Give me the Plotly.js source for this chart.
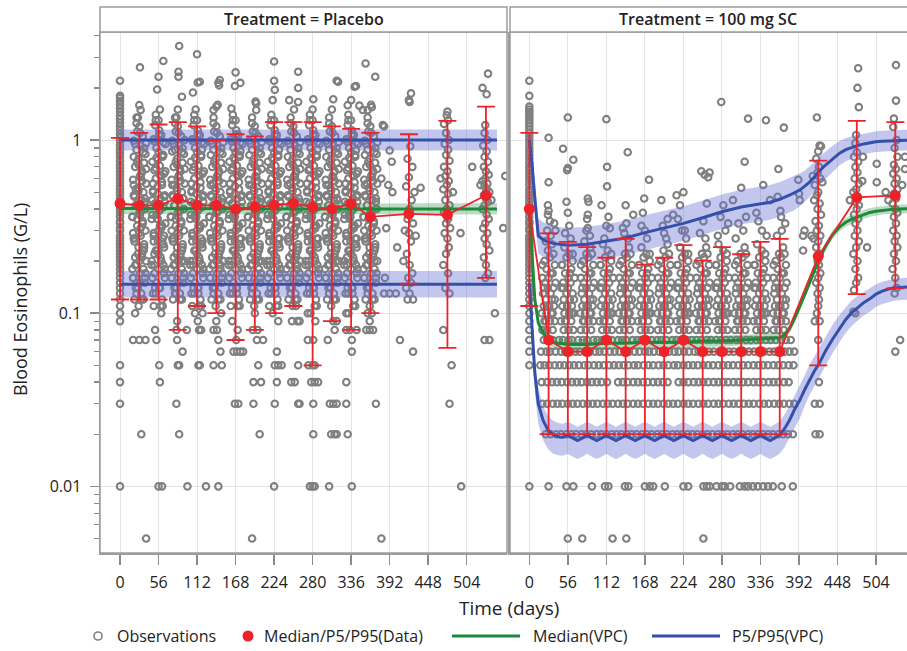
<!DOCTYPE html>
<html><head><meta charset="utf-8">
<script src="https://cdn.plot.ly/plotly-3.0.1.min.js"></script>
<style>html,body{margin:0;padding:0;background:#fff}#chart{width:907px;height:651px}</style>
</head><body><div id="chart"></div>
<script>
// ---------- Summary statistics of observed data (Median / P5 / P95) ----------
const visitDays = [0,28,56,84,112,140,168,196,224,252,280,308,336,364,420,476,532];
const plcMedian = [0.43,0.42,0.42,0.46,0.42,0.42,0.40,0.41,0.42,0.43,0.41,0.40,0.43,0.36,0.375,0.37,0.48];
const plcP5     = [0.12,0.12,0.12,0.08,0.11,0.10,0.07,0.08,0.10,0.11,0.05,0.09,0.08,0.10,0.148,0.063,0.16];
const plcP95    = [1.03,1.10,1.23,1.27,1.20,1.00,1.08,1.05,1.27,1.27,1.27,1.20,1.16,1.10,1.08,1.29,1.56];
const d100Median = [0.40,0.07,0.06,0.06,0.07,0.06,0.07,0.06,0.07,0.06,0.06,0.06,0.06,0.06,0.213,0.466,0.479];
const d100P5     = [0.11,0.02,0.02,0.02,0.02,0.02,0.02,0.02,0.02,0.02,0.02,0.02,0.02,0.02,0.05,0.129,0.139];
const d100P95    = [1.10,0.289,0.258,0.241,0.209,0.269,0.191,0.209,0.247,0.201,0.241,0.219,0.258,0.269,0.76,1.29,1.27];

// ---------- VPC (simulated) Placebo ----------
const vpcPlcDay   = [0,56,112,168,224,280,336,392,448,504,548];
const vpcPlcMed   = [0.402,0.401,0.40,0.40,0.401,0.40,0.40,0.399,0.40,0.40,0.40];
const vpcPlcMedLo = [0.373,0.372,0.371,0.371,0.372,0.371,0.371,0.37,0.371,0.371,0.371];
const vpcPlcMedHi = [0.433,0.432,0.431,0.431,0.432,0.431,0.431,0.43,0.431,0.431,0.431];
const vpcPlcP95   = [1.0,1.0,1.0,1.0,1.0,1.0,1.0,1.0,1.0,1.0,1.0];
const vpcPlcP95Lo = [0.87,0.87,0.87,0.87,0.87,0.87,0.87,0.87,0.87,0.87,0.87];
const vpcPlcP95Hi = [1.15,1.15,1.15,1.15,1.15,1.15,1.15,1.15,1.15,1.15,1.15];
const vpcPlcP5    = [0.147,0.147,0.147,0.147,0.147,0.147,0.147,0.147,0.147,0.147,0.147];
const vpcPlcP5Lo  = [0.123,0.123,0.123,0.123,0.123,0.123,0.123,0.123,0.123,0.123,0.123];
const vpcPlcP5Hi  = [0.175,0.175,0.175,0.175,0.175,0.175,0.175,0.175,0.175,0.175,0.175];

// ---------- VPC (simulated) 100 mg SC ----------
const vpc100Day   = [0,4,8,13,20,27,34,42,56,84,112,140,168,196,224,252,280,308,336,350,364,371,378,385,393,400,407,414,421,431,441,451,460,468,476,486,495,504,513,522,530,539,548,560];
const vpc100Med   = [0.40,0.22,0.12,0.088,0.077,0.071,0.068,0.067,0.066,0.066,0.067,0.067,0.068,0.068,0.068,0.069,0.069,0.07,0.071,0.072,0.072,0.075,0.081,0.092,0.108,0.127,0.148,0.175,0.205,0.245,0.285,0.315,0.335,0.348,0.357,0.372,0.382,0.388,0.393,0.396,0.399,0.40,0.401,0.402];
const vpc100MedLo = [0.378,0.208,0.113,0.083,0.072,0.066,0.063,0.062,0.061,0.061,0.062,0.062,0.063,0.063,0.063,0.064,0.064,0.065,0.066,0.067,0.067,0.071,0.076,0.087,0.102,0.12,0.14,0.165,0.194,0.231,0.269,0.297,0.316,0.329,0.337,0.351,0.361,0.366,0.371,0.374,0.377,0.378,0.379,0.38];
const vpc100MedHi = [0.424,0.233,0.127,0.093,0.082,0.076,0.073,0.072,0.071,0.071,0.072,0.072,0.073,0.073,0.073,0.074,0.074,0.075,0.076,0.077,0.077,0.079,0.086,0.097,0.114,0.134,0.157,0.185,0.217,0.259,0.302,0.334,0.355,0.369,0.378,0.394,0.405,0.411,0.416,0.419,0.423,0.424,0.425,0.426];
const vpc100P95   = [1.0,0.72,0.46,0.28,0.266,0.258,0.253,0.25,0.247,0.25,0.26,0.272,0.292,0.31,0.33,0.356,0.385,0.41,0.425,0.437,0.455,0.466,0.48,0.495,0.514,0.54,0.57,0.61,0.66,0.72,0.78,0.84,0.88,0.905,0.925,0.95,0.965,0.978,0.985,0.99,0.995,1.0,1.0,1.0];
const vpc100P95Lo = [0.83,0.572,0.365,0.222,0.211,0.205,0.201,0.199,0.196,0.199,0.207,0.216,0.232,0.246,0.262,0.283,0.306,0.326,0.338,0.347,0.361,0.37,0.381,0.393,0.413,0.439,0.465,0.502,0.546,0.601,0.656,0.715,0.754,0.78,0.802,0.827,0.841,0.852,0.858,0.862,0.867,0.871,0.871,0.871];
const vpc100P95Hi = [1.2,0.906,0.58,0.352,0.335,0.325,0.318,0.315,0.311,0.315,0.327,0.342,0.368,0.39,0.415,0.448,0.485,0.516,0.535,0.55,0.573,0.587,0.604,0.623,0.64,0.664,0.698,0.742,0.797,0.862,0.927,0.987,1.027,1.051,1.066,1.091,1.108,1.123,1.131,1.137,1.142,1.148,1.148,1.148];
const vpc100P5Day = [0,4,8,13,20,27,34,42,49,56,63,70,77,84,91,98,105,112,119,126,133,140,147,154,161,168,175,182,189,196,203,210,217,224,231,238,245,252,259,266,273,280,287,294,301,308,315,322,329,336,343,350,357,364,371,378,385,393,400,407,414,421,431,441,451,460,468,476,486,495,504,513,522,530,539,548,560];
const vpc100P5    = [0.15,0.08,0.045,0.03,0.024,0.0212,0.0199,0.0193,0.0192,0.0197,0.019,0.0184,0.019,0.0197,0.019,0.0184,0.019,0.0197,0.019,0.0184,0.019,0.0197,0.019,0.0184,0.019,0.0197,0.019,0.0184,0.019,0.0197,0.019,0.0184,0.019,0.0197,0.019,0.0184,0.019,0.0197,0.019,0.0184,0.019,0.0197,0.019,0.0184,0.019,0.0197,0.019,0.0184,0.019,0.0197,0.019,0.0184,0.019,0.0198,0.0215,0.024,0.0275,0.0314,0.036,0.041,0.046,0.051,0.061,0.071,0.082,0.092,0.1,0.107,0.115,0.121,0.129,0.134,0.138,0.14,0.141,0.142,0.143];
const vpc100P5Lo  = [0.125,0.064,0.035,0.023,0.0185,0.0165,0.0155,0.0151,0.015,0.0154,0.0148,0.0144,0.0148,0.0154,0.0148,0.0144,0.0148,0.0154,0.0148,0.0144,0.0148,0.0154,0.0148,0.0144,0.0148,0.0154,0.0148,0.0144,0.0148,0.0154,0.0148,0.0144,0.0148,0.0154,0.0148,0.0144,0.0148,0.0154,0.0148,0.0144,0.0148,0.0154,0.0148,0.0144,0.0148,0.0154,0.0148,0.0144,0.0148,0.0154,0.0148,0.0144,0.0148,0.0155,0.0168,0.0188,0.0215,0.0246,0.029,0.0335,0.0377,0.042,0.05,0.059,0.068,0.077,0.084,0.09,0.097,0.102,0.109,0.113,0.116,0.118,0.119,0.12,0.12];
const vpc100P5Hi  = [0.18,0.097,0.055,0.037,0.029,0.0255,0.024,0.0232,0.023,0.0236,0.0228,0.0221,0.0228,0.0236,0.0228,0.0221,0.0228,0.0236,0.0228,0.0221,0.0228,0.0236,0.0228,0.0221,0.0228,0.0236,0.0228,0.0221,0.0228,0.0236,0.0228,0.0221,0.0228,0.0236,0.0228,0.0221,0.0228,0.0236,0.0228,0.0221,0.0228,0.0236,0.0228,0.0221,0.0228,0.0236,0.0228,0.0221,0.0228,0.0236,0.0228,0.0221,0.0228,0.0237,0.026,0.029,0.033,0.038,0.0435,0.05,0.056,0.062,0.074,0.086,0.098,0.109,0.118,0.125,0.133,0.139,0.147,0.152,0.156,0.158,0.159,0.16,0.161];

// ---------- Observations, Placebo: [day, G/L] ----------
const obsPlacebo = [
[0,2.2],[0,1.8],[0,1.75],[0,1.68],[0,1.6],[0,1.52],[0,1.45],[0,1.38],[0,1.32],[0,1.26],[0,1.2],[0,1.14],[0,1.08],[0,1.03],[0,0.98],[0,0.93],[0,0.88],[0,0.84],[0,0.8],[0,0.76],[0,0.72],[0,0.69],[0,0.66],[0,0.63],[0,0.6],[0,0.57],[0,0.54],[0,0.52],[0,0.5],[0,0.48],[0,0.46],[0,0.44],[0,0.42],[0,0.4],[0,0.38],[0,0.36],[0,0.34],[0,0.33],[0,0.31],[0,0.3],[0,0.28],[0,0.27],[0,0.26],[0,0.25],[0,0.24],[0,0.23],[0,0.22],[0,0.21],[0,0.2],[0,0.19],[0,0.18],[0,0.17],[0,0.16],[0,0.15],[0,0.14],[0,0.13],[0,0.12],[0,0.11],[0,0.1],[0,0.09],[0,0.05],[0,0.04],[0,0.03],[0,0.01],
[21,0.12],[31,0.13],[26,0.14],[36,0.15],[19,0.16],[29,0.17],[34,0.18],[24,0.19],[38,0.2],[22,0.21],[32,0.22],[27,0.24],[35,0.25],[20,0.27],[30,0.28],[37,0.3],[25,0.32],[33,0.34],[18,0.36],[28,0.38],[36,0.4],[23,0.42],[31,0.45],[21,0.47],[34,0.5],[26,0.53],[38,0.56],[19,0.59],[29,0.62],[32,0.66],[22,0.7],[35,0.74],[27,0.78],[37,0.83],[24,0.88],[30,0.93],[20,0.99],[33,1.05],[25,1.12],[28,1.2],
[25,0.15],[34,0.23],[19,0.29],[29,0.37],[36,0.44],[23,0.52],[31,0.64],[20,0.8],[38,0.96],[27,0.11],[29,2.63],[28,1.59],[30,1.49],[26,1.35],[19,0.07],[28,0.07],[37,0.07],[31,0.02],[38,0.005],[22,0.1],
[31,0.12],[23,0.14],[36,0.16],[18,0.18],[28,0.2],[34,0.23],[21,0.26],[30,0.31],[25,0.35],[37,0.4],[20,0.48],[32,0.58],[27,0.72],[35,0.9],[24,1.35],
[61,0.12],[48,0.13],[58,0.14],[53,0.15],[65,0.16],[50,0.17],[56,0.18],[63,0.19],[46,0.2],[59,0.21],[52,0.23],[64,0.24],[55,0.26],[62,0.27],[49,0.29],[60,0.31],[66,0.33],[54,0.35],[47,0.37],[57,0.39],[63,0.41],[51,0.43],[59,0.46],[65,0.48],[48,0.51],[55,0.54],[61,0.57],[52,0.6],[64,0.64],[50,0.67],[58,0.71],[47,0.75],[62,0.8],[56,0.85],[53,0.9],[66,0.95],[49,1.01],[60,1.07],[57,1.14],[51,1.22],
[58,0.14],[50,0.22],[64,0.28],[55,0.35],[47,0.45],[61,0.55],[52,0.69],[63,0.82],[56,1.3],[49,0.11],[63,2.86],[56,2.32],[54,1.96],[58,1.5],[53,0.07],[57,0.05],[58,0.04],[56,0.01],[61,0.01],[51,0.08],[60,0.1],
[59,0.11],[51,0.14],[64,0.17],[46,0.19],[56,0.22],[62,0.25],[49,0.28],[58,0.32],[53,0.37],[65,0.44],[48,0.5],[60,0.62],[55,0.77],[63,0.97],[52,1.4],
[77,0.12],[87,0.13],[82,0.14],[92,0.15],[75,0.16],[85,0.17],[90,0.18],[80,0.19],[94,0.2],[78,0.21],[88,0.22],[83,0.24],[91,0.25],[76,0.27],[86,0.28],[93,0.3],[81,0.32],[89,0.34],[74,0.36],[84,0.38],[92,0.4],[79,0.42],[87,0.45],[77,0.47],[90,0.5],[82,0.53],[94,0.56],[75,0.59],[85,0.62],[88,0.66],[78,0.7],[91,0.74],[83,0.78],[93,0.83],[80,0.88],[86,0.93],[76,0.99],[89,1.05],[81,1.12],[84,1.2],
[81,0.13],[90,0.2],[75,0.3],[85,0.36],[92,0.46],[79,0.55],[87,0.68],[76,0.86],[94,1.0],[83,0.09],[86,3.49],[85,2.48],[85,2.32],[90,1.78],[84,1.5],[82,1.35],[82,0.08],[91,0.06],[84,0.05],[86,0.05],[82,0.03],[86,0.02],[97,0.08],[98,0.01],[83,0.07],
[87,0.12],[79,0.14],[92,0.16],[74,0.18],[84,0.2],[90,0.23],[77,0.26],[86,0.31],[81,0.35],[93,0.4],[76,0.48],[88,0.58],[83,0.72],[91,0.9],[80,1.35],
[117,0.12],[104,0.13],[114,0.14],[109,0.15],[121,0.16],[106,0.17],[112,0.18],[119,0.19],[102,0.2],[115,0.21],[108,0.23],[120,0.24],[111,0.26],[118,0.27],[105,0.29],[116,0.31],[122,0.33],[110,0.35],[103,0.37],[113,0.39],[119,0.41],[107,0.43],[115,0.46],[121,0.48],[104,0.51],[111,0.54],[117,0.57],[108,0.6],[120,0.64],[106,0.67],[114,0.71],[103,0.75],[118,0.8],[112,0.85],[109,0.9],[122,0.95],[105,1.01],[116,1.07],[113,1.14],[107,1.22],
[114,0.13],[106,0.2],[120,0.26],[111,0.36],[103,0.44],[117,0.53],[108,0.7],[119,0.88],[112,1.3],[105,0.11],[112,3.13],[113,2.15],[116,2.17],[106,1.88],[110,1.5],[113,0.09],[115,0.08],[118,0.08],[114,0.05],[116,0.05],[125,0.01],[109,0.1],[120,0.1],
[115,0.11],[107,0.14],[120,0.17],[102,0.19],[112,0.22],[118,0.25],[105,0.28],[114,0.32],[109,0.37],[121,0.44],[104,0.5],[116,0.62],[111,0.77],[119,0.97],[108,1.4],
[133,0.12],[143,0.13],[138,0.14],[148,0.15],[131,0.16],[141,0.17],[146,0.18],[136,0.19],[150,0.2],[134,0.21],[144,0.22],[139,0.24],[147,0.25],[132,0.27],[142,0.28],[149,0.3],[137,0.32],[145,0.34],[130,0.36],[140,0.38],[148,0.4],[135,0.42],[143,0.45],[133,0.47],[146,0.5],[138,0.53],[150,0.56],[131,0.59],[141,0.62],[144,0.66],[134,0.7],[147,0.74],[139,0.78],[149,0.83],[136,0.88],[142,0.93],[132,0.99],[145,1.05],[137,1.12],[140,1.2],
[137,0.14],[146,0.19],[131,0.29],[141,0.38],[148,0.44],[135,0.56],[143,0.64],[132,0.82],[150,0.97],[139,0.11],[145,2.22],[143,2.14],[144,2.07],[140,1.56],[136,1.49],[142,1.6],[141,0.08],[136,0.08],[143,0.07],[146,0.06],[136,0.05],[148,0.05],[143,0.01],[140,0.09],[147,0.1],
[143,0.12],[135,0.14],[148,0.16],[130,0.18],[140,0.2],[146,0.23],[133,0.26],[142,0.31],[137,0.35],[149,0.4],[132,0.48],[144,0.58],[139,0.72],[147,0.9],[136,1.35],
[173,0.12],[160,0.13],[170,0.14],[165,0.15],[177,0.16],[162,0.17],[168,0.18],[175,0.19],[158,0.2],[171,0.21],[164,0.23],[176,0.24],[167,0.26],[174,0.27],[161,0.29],[172,0.31],[178,0.33],[166,0.35],[159,0.37],[169,0.39],[175,0.41],[163,0.43],[171,0.46],[177,0.48],[160,0.51],[167,0.54],[173,0.57],[164,0.6],[176,0.64],[162,0.67],[170,0.71],[159,0.75],[174,0.8],[168,0.85],[165,0.9],[178,0.95],[161,1.01],[172,1.07],[169,1.14],[163,1.22],
[170,0.13],[162,0.2],[176,0.27],[167,0.36],[159,0.45],[173,0.52],[164,0.69],[175,0.86],[168,1.3],[161,0.11],[168,2.46],[167,2.05],[175,2.14],[162,1.52],[171,0.08],[165,0.06],[170,0.06],[175,0.06],[179,0.06],[167,0.03],[172,0.03],[169,0.07],[163,0.09],
[171,0.11],[163,0.14],[176,0.17],[158,0.19],[168,0.22],[174,0.25],[161,0.28],[170,0.32],[165,0.37],[177,0.44],[160,0.5],[172,0.62],[167,0.77],[175,0.97],[164,1.4],
[189,0.12],[199,0.13],[194,0.14],[204,0.15],[187,0.16],[197,0.17],[202,0.18],[192,0.19],[206,0.2],[190,0.21],[200,0.22],[195,0.24],[203,0.25],[188,0.27],[198,0.28],[205,0.3],[193,0.32],[201,0.34],[186,0.36],[196,0.38],[204,0.4],[191,0.42],[199,0.45],[189,0.47],[202,0.5],[194,0.53],[206,0.56],[187,0.59],[197,0.62],[200,0.66],[190,0.7],[203,0.74],[195,0.78],[205,0.83],[192,0.88],[198,0.93],[188,0.99],[201,1.05],[193,1.12],[196,1.2],
[193,0.14],[202,0.2],[187,0.3],[197,0.37],[204,0.44],[191,0.55],[199,0.65],[188,0.82],[206,0.97],[195,0.11],[198,1.63],[198,1.49],[197,1.67],[193,0.08],[200,0.08],[199,0.07],[208,0.07],[201,0.05],[194,0.04],[205,0.04],[194,0.03],[203,0.02],[192,0.005],[196,0.1],
[199,0.12],[191,0.14],[204,0.16],[186,0.18],[196,0.2],[202,0.23],[189,0.26],[198,0.31],[193,0.35],[205,0.4],[188,0.48],[200,0.58],[195,0.72],[203,0.9],[192,1.35],
[229,0.12],[216,0.13],[226,0.14],[221,0.15],[233,0.16],[218,0.17],[224,0.18],[231,0.19],[214,0.2],[227,0.21],[220,0.23],[232,0.24],[223,0.26],[230,0.27],[217,0.29],[228,0.31],[234,0.33],[222,0.35],[215,0.37],[225,0.39],[231,0.41],[219,0.43],[227,0.46],[233,0.48],[216,0.51],[223,0.54],[229,0.57],[220,0.6],[232,0.64],[218,0.67],[226,0.71],[215,0.75],[230,0.8],[224,0.85],[221,0.9],[234,0.95],[217,1.01],[228,1.07],[225,1.14],[219,1.22],
[226,0.13],[218,0.2],[232,0.27],[223,0.35],[215,0.45],[229,0.55],[220,0.69],[231,0.88],[224,1.3],[217,0.11],[224,2.84],[224,2.2],[225,1.95],[222,1.7],[228,0.06],[225,0.05],[230,0.05],[235,0.05],[228,0.04],[225,0.03],[224,0.01],[222,0.1],[230,0.09],
[227,0.11],[219,0.14],[232,0.17],[214,0.19],[224,0.22],[230,0.25],[217,0.28],[226,0.32],[221,0.37],[233,0.44],[216,0.5],[228,0.62],[223,0.77],[231,0.97],[220,1.4],
[245,0.12],[255,0.13],[250,0.14],[260,0.15],[243,0.16],[253,0.17],[258,0.18],[248,0.19],[262,0.2],[246,0.21],[256,0.22],[251,0.24],[259,0.25],[244,0.27],[254,0.28],[261,0.3],[249,0.32],[257,0.34],[242,0.36],[252,0.38],[260,0.4],[247,0.42],[255,0.45],[245,0.47],[258,0.5],[250,0.53],[262,0.56],[243,0.59],[253,0.62],[256,0.66],[246,0.7],[259,0.74],[251,0.78],[261,0.83],[248,0.88],[254,0.93],[244,0.99],[257,1.05],[249,1.12],[252,1.2],
[249,0.14],[258,0.19],[243,0.3],[253,0.38],[260,0.44],[247,0.56],[255,0.64],[244,0.8],[262,0.97],[251,0.11],[259,2.48],[259,2.0],[246,1.7],[259,1.66],[253,1.5],[250,0.09],[258,0.09],[261,0.09],[249,0.04],[254,0.04],[259,0.05],[259,0.03],[261,0.03],[256,0.11],
[255,0.12],[247,0.14],[260,0.16],[242,0.18],[252,0.2],[258,0.23],[245,0.26],[254,0.31],[249,0.35],[261,0.4],[244,0.48],[256,0.58],[251,0.72],[259,0.9],[248,1.35],
[285,0.12],[272,0.13],[282,0.14],[277,0.15],[289,0.16],[274,0.17],[280,0.18],[287,0.19],[270,0.2],[283,0.21],[276,0.23],[288,0.24],[279,0.26],[286,0.27],[273,0.29],[284,0.31],[290,0.33],[278,0.35],[271,0.37],[281,0.39],[287,0.41],[275,0.43],[283,0.46],[289,0.48],[272,0.51],[279,0.54],[285,0.57],[276,0.6],[288,0.64],[274,0.67],[282,0.71],[271,0.75],[286,0.8],[280,0.85],[277,0.9],[290,0.95],[273,1.01],[284,1.07],[281,1.14],[275,1.22],
[282,0.13],[274,0.2],[288,0.27],[279,0.36],[271,0.44],[285,0.53],[276,0.68],[287,0.88],[280,1.3],[273,0.1],[281,1.72],[280,1.5],[273,0.07],[281,0.07],[274,0.05],[280,0.05],[283,0.05],[278,0.04],[283,0.04],[288,0.04],[281,0.03],[281,0.02],[276,0.01],[280,0.01],[283,0.01],[277,0.1],[284,0.09],
[283,0.11],[275,0.14],[288,0.17],[270,0.19],[280,0.22],[286,0.25],[273,0.28],[282,0.32],[277,0.37],[289,0.44],[272,0.5],[284,0.62],[279,0.77],[287,0.97],[276,1.4],
[301,0.12],[311,0.13],[306,0.14],[316,0.15],[299,0.16],[309,0.17],[314,0.18],[304,0.19],[318,0.2],[302,0.21],[312,0.22],[307,0.24],[315,0.25],[300,0.27],[310,0.28],[317,0.3],[305,0.32],[313,0.34],[298,0.36],[308,0.38],[316,0.4],[303,0.42],[311,0.45],[301,0.47],[314,0.5],[306,0.53],[318,0.56],[299,0.59],[309,0.62],[312,0.66],[302,0.7],[315,0.74],[307,0.78],[317,0.83],[304,0.88],[310,0.93],[300,0.99],[313,1.05],[305,1.12],[308,1.2],
[305,0.14],[314,0.2],[299,0.29],[309,0.37],[316,0.45],[303,0.55],[311,0.65],[300,0.8],[318,0.97],[307,0.11],[315,2.2],[317,2.17],[310,1.72],[308,1.5],[302,0.07],[310,0.09],[315,0.09],[305,0.03],[310,0.03],[315,0.03],[307,0.02],[312,0.02],[315,0.02],[304,0.01],[312,0.08],
[311,0.12],[303,0.14],[316,0.16],[298,0.18],[308,0.2],[314,0.23],[301,0.26],[310,0.31],[305,0.35],[317,0.4],[300,0.48],[312,0.58],[307,0.72],[315,0.9],[304,1.35],
[341,0.12],[328,0.13],[338,0.14],[333,0.15],[345,0.16],[330,0.17],[336,0.18],[343,0.19],[326,0.2],[339,0.21],[332,0.23],[344,0.24],[335,0.26],[342,0.27],[329,0.29],[340,0.31],[346,0.33],[334,0.35],[327,0.37],[337,0.39],[343,0.41],[331,0.43],[339,0.46],[345,0.48],[328,0.51],[335,0.54],[341,0.57],[332,0.6],[344,0.64],[330,0.67],[338,0.71],[327,0.75],[342,0.8],[336,0.85],[333,0.9],[346,0.95],[329,1.01],[340,1.07],[337,1.14],[331,1.22],
[338,0.13],[330,0.21],[344,0.27],[335,0.36],[327,0.44],[341,0.53],[332,0.69],[343,0.87],[336,1.3],[329,0.1],[343,2.05],[341,2.03],[336,1.7],[331,1.59],[348,1.58],[353,1.49],[337,0.07],[337,0.06],[329,0.08],[334,0.08],[344,0.08],[329,0.04],[329,0.03],[331,0.02],[337,0.01],[332,0.1],
[339,0.11],[331,0.14],[344,0.17],[326,0.19],[336,0.22],[342,0.25],[329,0.28],[338,0.32],[333,0.37],[345,0.44],[328,0.5],[340,0.62],[335,0.77],[343,0.97],[332,1.4],
[357,0.12],[367,0.13],[362,0.14],[372,0.15],[355,0.16],[365,0.17],[370,0.18],[360,0.19],[374,0.2],[358,0.21],[368,0.22],[363,0.24],[371,0.25],[356,0.27],[366,0.28],[373,0.3],[361,0.32],[369,0.34],[354,0.36],[364,0.38],[372,0.4],[359,0.42],[367,0.45],[357,0.47],[370,0.5],[362,0.53],[374,0.56],[355,0.59],[365,0.62],[368,0.66],[358,0.7],[371,0.74],[363,0.78],[373,0.83],[360,0.88],[366,0.93],[356,0.99],[369,1.05],[361,1.12],[364,1.2],
[361,0.14],[370,0.2],[355,0.3],[365,0.37],[372,0.44],[359,0.56],[367,0.64],[356,0.82],[374,0.97],[363,0.11],[357,2.77],[371,2.32],[365,1.6],[366,1.55],[360,1.49],[358,0.08],[363,0.08],[368,0.08],[363,0.09],[372,0.03],[380,0.005],[360,0.1],[366,0.1],
[367,0.12],[359,0.14],[372,0.16],[354,0.18],[364,0.2],[370,0.23],[357,0.26],[366,0.31],[361,0.35],[373,0.4],[356,0.48],[368,0.58],[363,0.72],[371,0.9],[360,1.35],
[382,1.22],[384,1.2],[392,0.87],[390,0.55],[396,0.5],[387,0.31],[403,0.24],[384,0.13],[392,0.13],[401,0.13],[380,0.6],[385,0.16],[395,0.75],
[423,1.86],[421,1.66],[420,1.7],[422,0.92],[418,0.78],[425,0.7],[420,0.61],[416,0.54],[424,0.45],[421,0.4],[418,0.35],[426,0.33],[420,0.29],[423,0.26],[417,0.22],[421,0.19],[425,0.17],[419,0.16],[423,0.15],[416,0.14],[421,0.13],[426,0.12],[418,0.12],[414,0.3],[428,0.5],[437,0.53],[407,0.07],[426,0.06],[430,0.28],[412,0.2],
[476,1.46],[475,1.39],[471,1.24],[477,1.3],[474,1.1],[478,1.0],[472,0.95],[477,0.88],[474,0.82],[479,0.76],[471,0.7],[476,0.66],[473,0.62],[478,0.58],[475,0.55],[470,0.52],[477,0.49],[473,0.45],[479,0.42],[475,0.4],[471,0.38],[477,0.35],[474,0.33],[480,0.31],[472,0.29],[476,0.27],[478,0.24],[474,0.22],[470,0.19],[477,0.17],[473,0.14],[479,0.13],[470,0.08],[482,0.05],[479,0.03],[496,0.01],[466,0.6],[484,0.5],
[535,2.42],[527,2.0],[533,1.84],[531,1.22],[530,1.1],[534,1.0],[528,0.93],[533,0.86],[530,0.8],[535,0.75],[529,0.7],[532,0.66],[536,0.63],[531,0.6],[527,0.58],[534,0.56],[530,0.54],[533,0.52],[537,0.5],[529,0.48],[532,0.46],[535,0.44],[530,0.42],[527,0.4],[533,0.37],[536,0.35],[531,0.33],[528,0.31],[534,0.29],[530,0.27],[533,0.25],[537,0.23],[529,0.21],[532,0.19],[535,0.17],[531,0.16],[530,0.07],[537,0.07],[545,0.1],[512,0.7],[495,0.29],[557,0.31],[560,0.62],[540,0.45],[524,0.55]
];
// further Placebo observations within the visit windows 28..364
const obsPlaceboMore = [
[34,0.12],[24,0.13],[29,0.15],[19,0.16],[37,0.17],[22,0.19],[32,0.21],[26,0.22],[35,0.24],[21,0.27],[28,0.29],[33,0.33],[18,0.36],[31,0.39],[23,0.42],[36,0.46],[27,0.51],[20,0.55],[30,0.61],[38,0.68],[25,0.75],[34,0.85],[22,0.95],[29,1.1],[24,1.25],
[62,0.11],[52,0.13],[57,0.14],[47,0.16],[65,0.18],[50,0.19],[60,0.2],[54,0.23],[63,0.25],[49,0.26],[56,0.3],[61,0.32],[46,0.35],[59,0.4],[51,0.43],[64,0.47],[55,0.49],[48,0.56],[58,0.63],[66,0.66],[53,0.79],[62,0.82],[50,0.98],[57,1.08],[52,1.3],
[90,0.12],[80,0.13],[85,0.15],[75,0.16],[93,0.17],[78,0.19],[88,0.21],[82,0.22],[91,0.24],[77,0.27],[84,0.29],[89,0.33],[74,0.36],[87,0.39],[79,0.42],[92,0.46],[83,0.51],[76,0.55],[86,0.61],[94,0.68],[81,0.75],[90,0.85],[78,0.95],[85,1.1],[80,1.25],
[118,0.11],[108,0.13],[113,0.14],[103,0.16],[121,0.18],[106,0.19],[116,0.2],[110,0.23],[119,0.25],[105,0.26],[112,0.3],[117,0.32],[102,0.35],[115,0.4],[107,0.43],[120,0.47],[111,0.49],[104,0.56],[114,0.63],[122,0.66],[109,0.79],[118,0.82],[106,0.98],[113,1.08],[108,1.3],
[146,0.12],[136,0.13],[141,0.15],[131,0.16],[149,0.17],[134,0.19],[144,0.21],[138,0.22],[147,0.24],[133,0.27],[140,0.29],[145,0.33],[130,0.36],[143,0.39],[135,0.42],[148,0.46],[139,0.51],[132,0.55],[142,0.61],[150,0.68],[137,0.75],[146,0.85],[134,0.95],[141,1.1],[136,1.25],
[174,0.11],[164,0.13],[169,0.14],[159,0.16],[177,0.18],[162,0.19],[172,0.2],[166,0.23],[175,0.25],[161,0.26],[168,0.3],[173,0.32],[158,0.35],[171,0.4],[163,0.43],[176,0.47],[167,0.49],[160,0.56],[170,0.63],[178,0.66],[165,0.79],[174,0.82],[162,0.98],[169,1.08],[164,1.3],
[202,0.12],[192,0.13],[197,0.15],[187,0.16],[205,0.17],[190,0.19],[200,0.21],[194,0.22],[203,0.24],[189,0.27],[196,0.29],[201,0.33],[186,0.36],[199,0.39],[191,0.42],[204,0.46],[195,0.51],[188,0.55],[198,0.61],[206,0.68],[193,0.75],[202,0.85],[190,0.95],[197,1.1],[192,1.25],
[230,0.11],[220,0.13],[225,0.14],[215,0.16],[233,0.18],[218,0.19],[228,0.2],[222,0.23],[231,0.25],[217,0.26],[224,0.3],[229,0.32],[214,0.35],[227,0.4],[219,0.43],[232,0.47],[223,0.49],[216,0.56],[226,0.63],[234,0.66],[221,0.79],[230,0.82],[218,0.98],[225,1.08],[220,1.3],
[258,0.12],[248,0.13],[253,0.15],[243,0.16],[261,0.17],[246,0.19],[256,0.21],[250,0.22],[259,0.24],[245,0.27],[252,0.29],[257,0.33],[242,0.36],[255,0.39],[247,0.42],[260,0.46],[251,0.51],[244,0.55],[254,0.61],[262,0.68],[249,0.75],[258,0.85],[246,0.95],[253,1.1],[248,1.25],
[286,0.11],[276,0.13],[281,0.14],[271,0.16],[289,0.18],[274,0.19],[284,0.2],[278,0.23],[287,0.25],[273,0.26],[280,0.3],[285,0.32],[270,0.35],[283,0.4],[275,0.43],[288,0.47],[279,0.49],[272,0.56],[282,0.63],[290,0.66],[277,0.79],[286,0.82],[274,0.98],[281,1.08],[276,1.3],
[314,0.12],[304,0.13],[309,0.15],[299,0.16],[317,0.17],[302,0.19],[312,0.21],[306,0.22],[315,0.24],[301,0.27],[308,0.29],[313,0.33],[298,0.36],[311,0.39],[303,0.42],[316,0.46],[307,0.51],[300,0.55],[310,0.61],[318,0.68],[305,0.75],[314,0.85],[302,0.95],[309,1.1],[304,1.25],
[342,0.11],[332,0.13],[337,0.14],[327,0.16],[345,0.18],[330,0.19],[340,0.2],[334,0.23],[343,0.25],[329,0.26],[336,0.3],[341,0.32],[326,0.35],[339,0.4],[331,0.43],[344,0.47],[335,0.49],[328,0.56],[338,0.63],[346,0.66],[333,0.79],[342,0.82],[330,0.98],[337,1.08],[332,1.3],
[370,0.12],[360,0.13],[365,0.15],[355,0.16],[373,0.17],[358,0.19],[368,0.21],[362,0.22],[371,0.24],[357,0.27],[364,0.29],[369,0.33],[354,0.36],[367,0.39],[359,0.42],[372,0.46],[363,0.51],[356,0.55],[366,0.61],[374,0.68],[361,0.75],[370,0.85],[358,0.95],[365,1.1],[360,1.25]
];

// ---------- Observations, 100 mg SC: [day, G/L] ----------
const obs100 = [
[0,2.2],[0,1.8],[0,1.56],[0,1.5],[0,1.45],[0,1.4],[0,1.35],[0,1.3],[0,1.25],[0,1.2],[0,1.15],[0,1.1],[0,1.05],[0,1.0],[0,0.95],[0,0.9],[0,0.86],[0,0.82],[0,0.78],[0,0.74],[0,0.7],[0,0.67],[0,0.64],[0,0.61],[0,0.58],[0,0.55],[0,0.52],[0,0.5],[0,0.48],[0,0.46],[0,0.44],[0,0.42],[0,0.4],[0,0.38],[0,0.36],[0,0.34],[0,0.33],[0,0.31],[0,0.3],[0,0.28],[0,0.27],[0,0.26],[0,0.25],[0,0.24],[0,0.23],[0,0.22],[0,0.21],[0,0.2],[0,0.19],[0,0.18],[0,0.17],[0,0.16],[0,0.15],[0,0.14],[0,0.13],[0,0.12],[0,0.11],[0,0.1],[0,0.09],[0,0.08],[0,0.07],[0,0.06],[0,0.05],[0,0.01],
[19,0.08],[26,0.08],[34,0.08],[22,0.09],[30,0.09],[37,0.09],[18,0.1],[25,0.1],[32,0.1],[21,0.11],[29,0.11],[36,0.11],[24,0.12],[33,0.12],[20,0.13],[31,0.13],[27,0.14],[35,0.14],[23,0.15],[38,0.15],[28,0.16],[19,0.16],[34,0.17],[25,0.18],[37,0.19],[22,0.2],[30,0.21],[27,0.23],[33,0.25],
[64,0.08],[57,0.08],[50,0.08],[61,0.09],[53,0.09],[46,0.09],[65,0.1],[58,0.1],[51,0.1],[62,0.11],[55,0.11],[48,0.11],[59,0.12],[50,0.12],[63,0.13],[54,0.13],[56,0.14],[47,0.14],[60,0.15],[49,0.15],[57,0.16],[66,0.16],[52,0.17],[61,0.18],[48,0.19],[63,0.2],[54,0.21],[58,0.22],[51,0.24],
[75,0.08],[82,0.08],[90,0.08],[78,0.09],[86,0.09],[93,0.09],[74,0.1],[81,0.1],[88,0.1],[77,0.11],[85,0.11],[92,0.11],[80,0.12],[89,0.12],[76,0.13],[87,0.13],[83,0.14],[91,0.14],[79,0.15],[94,0.15],[84,0.16],[75,0.16],[90,0.17],[81,0.18],[93,0.19],[78,0.2],[86,0.21],[83,0.22],[89,0.24],
[120,0.08],[113,0.08],[106,0.08],[117,0.09],[109,0.09],[102,0.09],[121,0.1],[114,0.1],[107,0.1],[118,0.11],[111,0.11],[104,0.11],[115,0.12],[106,0.12],[119,0.13],[110,0.13],[112,0.14],[103,0.14],[116,0.15],[105,0.15],[113,0.16],[122,0.16],[108,0.17],[117,0.18],[104,0.19],[119,0.2],[110,0.21],[114,0.23],[107,0.25],
[131,0.08],[138,0.08],[146,0.08],[134,0.09],[142,0.09],[149,0.09],[130,0.1],[137,0.1],[144,0.1],[133,0.11],[141,0.11],[148,0.11],[136,0.12],[145,0.12],[132,0.13],[143,0.13],[139,0.14],[147,0.14],[135,0.15],[150,0.15],[140,0.16],[131,0.16],[146,0.17],[137,0.18],[149,0.19],[134,0.2],[142,0.21],[139,0.22],[145,0.24],
[176,0.08],[169,0.08],[162,0.08],[173,0.09],[165,0.09],[158,0.09],[177,0.1],[170,0.1],[163,0.1],[174,0.11],[167,0.11],[160,0.11],[171,0.12],[162,0.12],[175,0.13],[166,0.13],[168,0.14],[159,0.14],[172,0.15],[161,0.15],[169,0.16],[178,0.16],[164,0.17],[173,0.18],[160,0.19],[175,0.2],[166,0.21],[170,0.22],[163,0.24],
[187,0.08],[194,0.08],[202,0.08],[190,0.09],[198,0.09],[205,0.09],[186,0.1],[193,0.1],[200,0.1],[189,0.11],[197,0.11],[204,0.11],[192,0.12],[201,0.12],[188,0.13],[199,0.13],[195,0.14],[203,0.14],[191,0.15],[206,0.15],[196,0.16],[187,0.16],[202,0.17],[193,0.18],[205,0.19],[190,0.2],[198,0.21],[195,0.23],[201,0.25],
[232,0.08],[225,0.08],[218,0.08],[229,0.09],[221,0.09],[214,0.09],[233,0.1],[226,0.1],[219,0.1],[230,0.11],[223,0.11],[216,0.11],[227,0.12],[218,0.12],[231,0.13],[222,0.13],[224,0.14],[215,0.14],[228,0.15],[217,0.15],[225,0.16],[234,0.16],[220,0.17],[229,0.18],[216,0.19],[231,0.2],[222,0.21],[226,0.22],[219,0.24],
[243,0.08],[250,0.08],[258,0.08],[246,0.09],[254,0.09],[261,0.09],[242,0.1],[249,0.1],[256,0.1],[245,0.11],[253,0.11],[260,0.11],[248,0.12],[257,0.12],[244,0.13],[255,0.13],[251,0.14],[259,0.14],[247,0.15],[262,0.15],[252,0.16],[243,0.16],[258,0.17],[249,0.18],[261,0.19],[246,0.2],[254,0.21],[251,0.22],[257,0.24],
[288,0.08],[281,0.08],[274,0.08],[285,0.09],[277,0.09],[270,0.09],[289,0.1],[282,0.1],[275,0.1],[286,0.11],[279,0.11],[272,0.11],[283,0.12],[274,0.12],[287,0.13],[278,0.13],[280,0.14],[271,0.14],[284,0.15],[273,0.15],[281,0.16],[290,0.16],[276,0.17],[285,0.18],[272,0.19],[287,0.2],[278,0.21],[282,0.23],[275,0.25],
[299,0.08],[306,0.08],[314,0.08],[302,0.09],[310,0.09],[317,0.09],[298,0.1],[305,0.1],[312,0.1],[301,0.11],[309,0.11],[316,0.11],[304,0.12],[313,0.12],[300,0.13],[311,0.13],[307,0.14],[315,0.14],[303,0.15],[318,0.15],[308,0.16],[299,0.16],[314,0.17],[305,0.18],[317,0.19],[302,0.2],[310,0.21],[307,0.22],[313,0.24],
[344,0.08],[337,0.08],[330,0.08],[341,0.09],[333,0.09],[326,0.09],[345,0.1],[338,0.1],[331,0.1],[342,0.11],[335,0.11],[328,0.11],[339,0.12],[330,0.12],[343,0.13],[334,0.13],[336,0.14],[327,0.14],[340,0.15],[329,0.15],[337,0.16],[346,0.16],[332,0.17],[341,0.18],[328,0.19],[343,0.2],[334,0.21],[338,0.23],[331,0.25],
[355,0.08],[362,0.08],[370,0.08],[358,0.09],[366,0.09],[373,0.09],[354,0.1],[361,0.1],[368,0.1],[357,0.11],[365,0.11],[372,0.11],[360,0.12],[369,0.12],[356,0.13],[367,0.13],[363,0.14],[371,0.14],[359,0.15],[374,0.15],[364,0.16],[355,0.16],[370,0.17],[361,0.18],[373,0.19],[358,0.2],[366,0.21],[363,0.22],[369,0.24],
[24,0.09],[34,0.1],[27,0.11],[37,0.12],[21,0.14],[31,0.17],[19,0.19],[35,0.22],
[52,0.09],[62,0.1],[55,0.11],[65,0.12],[49,0.14],[59,0.17],[47,0.19],[63,0.22],
[80,0.09],[90,0.1],[83,0.11],[93,0.12],[77,0.14],[87,0.17],[75,0.19],[91,0.22],
[108,0.09],[118,0.1],[111,0.11],[121,0.12],[105,0.14],[115,0.17],[103,0.19],[119,0.22],
[136,0.09],[146,0.1],[139,0.11],[149,0.12],[133,0.14],[143,0.17],[131,0.19],[147,0.22],
[164,0.09],[174,0.1],[167,0.11],[177,0.12],[161,0.14],[171,0.17],[159,0.19],[175,0.22],
[192,0.09],[202,0.1],[195,0.11],[205,0.12],[189,0.14],[199,0.17],[187,0.19],[203,0.22],
[220,0.09],[230,0.1],[223,0.11],[233,0.12],[217,0.14],[227,0.17],[215,0.19],[231,0.22],
[248,0.09],[258,0.1],[251,0.11],[261,0.12],[245,0.14],[255,0.17],[243,0.19],[259,0.22],
[276,0.09],[286,0.1],[279,0.11],[289,0.12],[273,0.14],[283,0.17],[271,0.19],[287,0.22],
[304,0.09],[314,0.1],[307,0.11],[317,0.12],[301,0.14],[311,0.17],[299,0.19],[315,0.22],
[332,0.09],[342,0.1],[335,0.11],[345,0.12],[329,0.14],[339,0.17],[327,0.19],[343,0.22],
[360,0.09],[370,0.1],[363,0.11],[373,0.12],[357,0.14],[367,0.17],[355,0.19],[371,0.22],
[28,1.03],[28,0.57],[27,0.42],[28,0.39],[27,0.37],[30,0.34],[26,0.3],[31,0.28],[24,0.26],[36,0.33],[38,0.3],
[56,1.35],[49,0.89],[64,0.77],[56,0.69],[55,0.67],[56,0.38],[58,0.32],[52,0.29],[60,0.27],[54,0.44],
[85,0.46],[86,0.44],[85,0.37],[84,0.35],[85,0.31],[83,0.3],[88,0.28],[80,0.26],
[112,1.32],[113,0.7],[113,0.54],[105,0.42],[112,0.32],[117,0.31],[109,0.27],[115,0.36],
[143,0.85],[140,0.42],[151,0.37],[141,0.33],[138,0.29],[144,0.27],[136,0.31],
[174,0.59],[167,0.46],[163,0.32],[168,0.3],[171,0.27],[165,0.38],
[192,0.45],[196,0.29],[194,0.32],[199,0.27],[201,0.35],
[214,0.48],[224,0.5],[219,0.42],[209,0.37],[216,0.35],[222,0.3],[226,0.3],[228,0.27],
[250,0.66],[255,0.63],[260,0.61],[258,0.43],[262,0.65],[253,0.34],[248,0.29],[256,0.27],
[279,1.66],[282,0.42],[278,0.36],[285,0.3],[274,0.28],[289,0.33],
[318,1.33],[313,0.75],[308,0.53],[296,0.45],[304,0.33],[311,0.3],[300,0.27],[315,0.36],
[344,1.3],[340,0.55],[350,0.45],[333,0.34],[338,0.3],[345,0.28],[330,0.38],
[370,1.18],[362,0.68],[361,0.47],[365,0.39],[366,0.36],[367,0.3],[360,0.28],[372,0.33],
[391,0.59],[392,0.49],[393,0.45],[400,0.3],[398,0.23],[410,0.28],[398,0.28],
[28,0.01],[54,0.01],[64,0.01],[91,0.01],[110,0.01],[115,0.01],[139,0.01],[144,0.01],[168,0.01],[175,0.01],[180,0.01],[197,0.01],[224,0.01],[231,0.01],[253,0.01],[258,0.01],[262,0.01],[272,0.01],[280,0.01],[284,0.01],[292,0.01],[306,0.01],[313,0.01],[318,0.01],[325,0.01],[332,0.01],[340,0.01],[347,0.01],[354,0.01],[367,0.01],[383,0.01],
[56,0.005],[77,0.005],[121,0.005],[141,0.005],[253,0.005],
[418,1.35],[422,0.93],[424,0.92],[420,0.86],[417,0.78],[421,0.7],[419,0.65],[423,0.6],[415,0.55],[420,0.5],[418,0.48],[414,0.45],[422,0.43],[419,0.4],[424,0.37],[416,0.34],[421,0.32],[418,0.3],[423,0.28],[420,0.26],[417,0.24],[422,0.22],[419,0.2],[421,0.19],[418,0.18],[423,0.17],[420,0.16],[417,0.15],[422,0.14],[419,0.13],[421,0.12],[420,0.11],[418,0.1],[415,0.09],[422,0.09],[420,0.07],[421,0.04],[415,0.03],[422,0.03],[416,0.02],[422,0.02],[412,0.62],[426,0.57],[413,0.27],
[478,2.6],[477,2.0],[479,1.55],[475,1.07],[474,0.96],[476,0.85],[472,0.8],[478,0.75],[474,0.7],[477,0.65],[473,0.6],[479,0.56],[475,0.52],[471,0.5],[477,0.47],[474,0.44],[479,0.42],[476,0.4],[472,0.37],[478,0.35],[474,0.33],[477,0.3],[473,0.28],[479,0.26],[475,0.24],[471,0.22],[477,0.2],[474,0.18],[478,0.16],[475,0.15],[472,0.136],[471,0.102],[474,0.1],[485,0.8],[466,0.45],[491,0.24],[484,0.58],
[533,2.71],[533,1.69],[530,1.33],[529,1.19],[534,1.0],[531,0.9],[535,0.8],[530,0.72],[533,0.68],[529,0.64],[534,0.6],[531,0.56],[535,0.52],[530,0.49],[533,0.46],[528,0.43],[532,0.4],[535,0.38],[530,0.36],[533,0.33],[529,0.3],[534,0.28],[531,0.26],[535,0.24],[530,0.22],[533,0.2],[528,0.18],[532,0.16],[534,0.14],[531,0.13],[532,0.06],[539,0.07],[505,0.73],[505,0.57],[546,0.8],[546,0.68],[518,0.5],[522,0.45],[542,0.55]
];
// 100 mg: low quantised values (G/L) observed on many days during treatment
const obs100StripLevel = [0.02,0.03,0.04,0.05,0.06,0.07];
const obs100StripDays = [
[24,31,39,46,54,61,68,76,83,90,98,105,112,120,127,134,142,149,156,164,171,178,186,193,200,208,215,222,230,237,244,252,259,266,274,281,288,296,303,310,318,325,332,340,347,354,362,369,376,383],
[19,26,34,41,48,56,63,70,78,85,92,99,107,114,121,129,136,143,151,158,165,173,180,187,195,202,209,216,224,231,238,246,253,260,268,275,282,290,297,304,312,319,326,334,341,348,356,363,370,378,385],
[18,26,33,40,47,55,62,69,76,84,91,98,105,113,129,136,143,151,158,165,172,180,187,194,201,217,224,231,239,246,253,260,268,275,282,289,297,304,311,318,326,333,340,348,355,362,370,377],
[16,22,29,37,44,51,58,65,72,80,86,94,101,108,116,123,130,137,144,152,158,166,173,180,188,195,202,210,216,224,231,238,245,253,260,267,275,282,289,296,304,311,318,326,333,340,347,355,362,369,377,384],
[17,25,30,38,46,52,60,67,73,81,88,96,102,109,117,124,131,139,145,153,160,168,174,181,189,196,203,211,217,225,232,240,246,254,261,268,276,283,290,297,305,312,319,327,334,341,349,356,363,371,378,385],
[21,28,34,43,49,57,62,71,78,84,93,99,106,114,120,129,135,141,150,157,163,171,178,186,192,199,208,214,221,229,236,243,250,258,264,272,279,286,293,301,307,315,322,330,336,344,351,358,366,373,380]
];

// ---------- axis ticks ----------
const xTicks = [0,56,112,168,224,280,336,392,448,504];
const yTicks = [0.01,0.1,1];
const yTickText = ['0.01','0.1','1'];
const yMinor = [0.005,0.006,0.007,0.008,0.009,0.02,0.03,0.04,0.05,0.06,0.07,0.08,0.09,0.2,0.3,0.4,0.5,0.6,0.7,0.8,0.9,2,3,4];

// ---------- colours ----------
const GREY='#7f7f7f', RED='#ee2229', GREEN='#1d8a3b', BLUE='#3450ab';
const GREEN_BAND='rgba(45,150,75,0.33)', BLUE_BAND='rgba(105,115,210,0.40)';

// ---------- build traces ----------
function obsTrace(pairs, extraX, extraY, xa, ya){
  return {type:'scatter', mode:'markers', x:pairs.map(p=>p[0]).concat(extraX), y:pairs.map(p=>p[1]).concat(extraY),
    xaxis:xa, yaxis:ya, hoverinfo:'skip', showlegend:false,
    marker:{symbol:'circle-open', size:6.5, color:GREY, line:{width:2.1, color:GREY}}};
}
function band(days, lo, hi, col, xa, ya){
  return {type:'scatter', mode:'lines', x:days.concat(days.slice().reverse()), y:hi.concat(lo.slice().reverse()),
    fill:'toself', fillcolor:col, line:{width:0}, xaxis:xa, yaxis:ya, hoverinfo:'skip', showlegend:false};
}
function line(days, v, col, xa, ya){
  return {type:'scatter', mode:'lines', x:days, y:v, line:{color:col, width:3}, xaxis:xa, yaxis:ya, hoverinfo:'skip', showlegend:false};
}
function dataStats(med, p5, p95, xa, ya){
  return {type:'scatter', mode:'lines+markers', x:visitDays, y:med, xaxis:xa, yaxis:ya, hoverinfo:'skip', showlegend:false,
    line:{color:RED, width:1.8}, marker:{color:RED, size:11},
    error_y:{type:'data', symmetric:false, array:p95.map((v,i)=>v-med[i]), arrayminus:p5.map((v,i)=>med[i]-v),
      color:RED, thickness:1.8, width:9}};
}
const stripX = [], stripY = [];
obs100StripDays.forEach((ds,i)=>ds.forEach(d=>{stripX.push(d); stripY.push(obs100StripLevel[i]);}));
const allPlacebo = obsPlacebo.concat(obsPlaceboMore);

const traces = [
  obsTrace(allPlacebo, [], [], 'x', 'y'),
  obsTrace(obs100, stripX, stripY, 'x2', 'y2'),
  band(vpcPlcDay, vpcPlcP95Lo, vpcPlcP95Hi, BLUE_BAND, 'x', 'y'),
  band(vpcPlcDay, vpcPlcP5Lo, vpcPlcP5Hi, BLUE_BAND, 'x', 'y'),
  band(vpcPlcDay, vpcPlcMedLo, vpcPlcMedHi, GREEN_BAND, 'x', 'y'),
  band(vpc100Day, vpc100P95Lo, vpc100P95Hi, BLUE_BAND, 'x2', 'y2'),
  band(vpc100P5Day, vpc100P5Lo, vpc100P5Hi, BLUE_BAND, 'x2', 'y2'),
  band(vpc100Day, vpc100MedLo, vpc100MedHi, GREEN_BAND, 'x2', 'y2'),
  line(vpcPlcDay, vpcPlcP95, BLUE, 'x', 'y'),
  line(vpcPlcDay, vpcPlcP5, BLUE, 'x', 'y'),
  line(vpcPlcDay, vpcPlcMed, GREEN, 'x', 'y'),
  line(vpc100Day, vpc100P95, BLUE, 'x2', 'y2'),
  line(vpc100P5Day, vpc100P5, BLUE, 'x2', 'y2'),
  line(vpc100Day, vpc100Med, GREEN, 'x2', 'y2'),
  dataStats(plcMedian, plcP5, plcP95, 'x', 'y'),
  dataStats(d100Median, d100P5, d100P95, 'x2', 'y2')
];

// ---------- layout ----------
const FRAME='#9c9c9c', GRID='#e3e3e3', TICKC='#8a8a8a';
const xCommon = {tickmode:'array', tickvals:xTicks, ticks:'outside', ticklen:10, tickwidth:1.4, tickcolor:TICKC,
  showgrid:true, gridcolor:GRID, gridwidth:1, zeroline:false, showline:true, linecolor:FRAME, linewidth:1.5,
  tickfont:{size:16, color:'#222'}, ticklabelstandoff:4};
const yRange = [-2.385, 0.624];
const L0=0, L1=0.50434, R0=0.50805, R1=1.004;
const yLeg = -0.1593;

const layout = {
  width:907, height:651, margin:{l:100, r:0, t:32, b:98},
  paper_bgcolor:'#fff', plot_bgcolor:'#fff', showlegend:false,
  font:{family:'"Open Sans", sans-serif', color:'#222'},
  xaxis: Object.assign({}, xCommon, {domain:[L0,L1], range:[-29.1,562.6], anchor:'y'}),
  xaxis2: Object.assign({}, xCommon, {domain:[R0,1], range:[-28.1,549], anchor:'y2'}),
  yaxis: {type:'log', range:yRange, domain:[0,1], anchor:'x', tickmode:'array', tickvals:yTicks, ticktext:yTickText,
    ticks:'outside', ticklen:9, tickwidth:1.4, tickcolor:TICKC,
    minor:{tickmode:'array', tickvals:yMinor, ticks:'outside', ticklen:5, tickwidth:1.2, tickcolor:TICKC, showgrid:false},
    showgrid:true, gridcolor:GRID, zeroline:false, showline:true, linecolor:FRAME, linewidth:1.5,
    tickfont:{size:16, color:'#222'}, ticklabelstandoff:5},
  yaxis2: {type:'log', range:yRange, domain:[0,1], anchor:'x2', tickmode:'array', tickvals:yTicks, showticklabels:false,
    ticks:'', showgrid:true, gridcolor:GRID, zeroline:false, showline:true, linecolor:FRAME, linewidth:1.5},
  shapes: [
    {type:'rect', xref:'paper', yref:'paper', x0:L0, x1:L1, y0:0, y1:1, line:{color:FRAME, width:1.5}, layer:'above'},
    {type:'rect', xref:'paper', yref:'paper', x0:R0, x1:R1, y0:0, y1:1, line:{color:FRAME, width:1.5}, layer:'above'},
    {type:'rect', xref:'paper', yref:'paper', x0:L0, x1:L1, y0:1, y1:1.048, line:{color:FRAME, width:1.5}, fillcolor:'#fff'},
    {type:'rect', xref:'paper', yref:'paper', x0:R0, x1:R1, y0:1, y1:1.048, line:{color:FRAME, width:1.5}, fillcolor:'#fff'},
    {type:'circle', xref:'paper', yref:'paper', xsizemode:'pixel', ysizemode:'pixel', xanchor:-0.00248, yanchor:yLeg,
      x0:-4, x1:4, y0:-4, y1:4, line:{color:GREY, width:1.6}},
    {type:'circle', xref:'paper', yref:'paper', xsizemode:'pixel', ysizemode:'pixel', xanchor:0.1834, yanchor:yLeg,
      x0:-5.5, x1:5.5, y0:-5.5, y1:5.5, line:{color:RED, width:0}, fillcolor:RED},
    {type:'line', xref:'paper', yref:'paper', x0:0.43619, x1:0.52045, y0:yLeg, y1:yLeg, line:{color:GREEN, width:3}},
    {type:'line', xref:'paper', yref:'paper', x0:0.68401, x1:0.76828, y0:yLeg, y1:yLeg, line:{color:BLUE, width:3}}
  ],
  annotations: [
    {text:'Treatment = Placebo', xref:'paper', yref:'paper', x:(L0+L1)/2, y:1.024, showarrow:false, xanchor:'center', yanchor:'middle', font:{size:16, weight:600, color:'#222'}},
    {text:'Treatment = 100 mg SC', xref:'paper', yref:'paper', x:(R0+1)/2, y:1.024, showarrow:false, xanchor:'center', yanchor:'middle', font:{size:16, weight:600, color:'#222'}},
    {text:'Time (days)', xref:'paper', yref:'paper', x:0.5068, y:-0.1056, showarrow:false, xanchor:'center', yanchor:'middle', font:{size:19, color:'#222'}},
    {text:'Blood Eosinophils (G/L)', xref:'paper', yref:'paper', x:-0.0991, y:0.4856, showarrow:false, textangle:-90, xanchor:'center', yanchor:'middle', font:{size:18, color:'#222'}},
    {text:'Observations', xref:'paper', yref:'paper', x:0.01859, y:yLeg, showarrow:false, xanchor:'left', yanchor:'middle', font:{size:16, color:'#222'}},
    {text:'Median/P5/P95(Data)', xref:'paper', yref:'paper', x:0.20074, y:yLeg, showarrow:false, xanchor:'left', yanchor:'middle', font:{size:16, color:'#222'}},
    {text:'Median(VPC)', xref:'paper', yref:'paper', x:0.53408, y:yLeg, showarrow:false, xanchor:'left', yanchor:'middle', font:{size:16, color:'#222'}},
    {text:'P5/P95(VPC)', xref:'paper', yref:'paper', x:0.78067, y:yLeg, showarrow:false, xanchor:'left', yanchor:'middle', font:{size:16, color:'#222'}}
  ]
};

Plotly.newPlot('chart', traces, layout, {displayModeBar:false, staticPlot:true});
</script>
</body></html>
